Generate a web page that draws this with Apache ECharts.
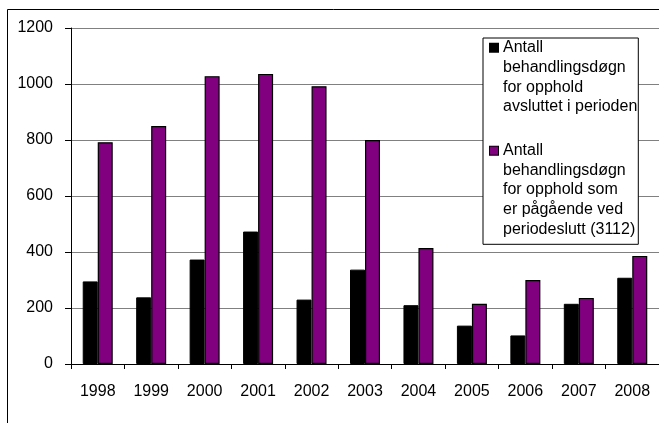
<!DOCTYPE html>
<html>
<head>
<meta charset="utf-8">
<script src="https://cdn.jsdelivr.net/npm/echarts@6/dist/echarts.min.js"></script>
<style>
  html, body { margin: 0; padding: 0; background: #fff; }
  #chart { width: 659px; height: 423px; }
</style>
</head>
<body>
<div id="chart"></div>
<script>
// Years on the category axis
const years = ['1998', '1999', '2000', '2001', '2002', '2003', '2004', '2005', '2006', '2007', '2008'];

// Treatment days for stays closed within the period (black)
const closedStays = [295, 238, 373, 473, 230, 337, 210, 137, 102, 215, 308];

// Treatment days for stays still ongoing at period end (purple)
const ongoingStays = [792, 850, 1028, 1036, 992, 800, 414, 215, 300, 236, 386];

// Value axis ticks
const yTicks = [0, 200, 400, 600, 800, 1000, 1200];

// Series names and how they wrap in the legend
const nameClosed = 'Antall behandlingsdøgn for opphold avsluttet i perioden';
const nameOngoing = 'Antall behandlingsdøgn for opphold som er pågående ved periodeslutt (3112)';
const legendLines = {};
legendLines[nameClosed] = ['Antall', 'behandlingsdøgn', 'for opphold', 'avsluttet i perioden'];
legendLines[nameOngoing] = ['Antall', 'behandlingsdøgn', 'for opphold som', 'er pågående ved', 'periodeslutt (3112)'];

const FONT = '"Liberation Sans", Arial, sans-serif';
const PURPLE = '#800080';

const chart = echarts.init(document.getElementById('chart'), null, { renderer: 'canvas' });

chart.setOption({
  animation: false,
  backgroundColor: '#fff',
  textStyle: { fontFamily: FONT },
  graphic: [{
    type: 'rect',
    shape: { x: 7.5, y: 9.5, width: 800, height: 600 },
    style: { fill: 'transparent', stroke: '#000', lineWidth: 1 },
    silent: true,
    z: -10
  }],
  grid: { left: 71, top: 28, right: -6, bottom: 59 },
  xAxis: {
    type: 'category',
    data: years,
    boundaryGap: true,
    axisLine: { lineStyle: { color: '#000', width: 1 } },
    axisTick: { show: true, length: 5, lineStyle: { color: '#000' } },
    axisLabel: { color: '#000', fontSize: 16, fontFamily: FONT, margin: 20 }
  },
  yAxis: {
    type: 'value',
    min: yTicks[0],
    max: yTicks[yTicks.length - 1],
    interval: yTicks[1] - yTicks[0],
    axisLine: { show: true, lineStyle: { color: '#000', width: 1 } },
    axisTick: { show: true, length: 6, lineStyle: { color: '#000' } },
    axisLabel: {
      color: '#000', fontSize: 16, fontFamily: FONT, margin: 18,
      formatter: function (v) { return String(v); }
    },
    splitLine: { show: true, lineStyle: { color: '#808080', width: 1 } }
  },
  legend: {
    orient: 'vertical',
    left: 483,
    top: 38,
    padding: [0, 1, 5, 2],
    itemGap: 24,
    itemWidth: 0,
    itemHeight: 14,
    icon: 'none',
    selectedMode: false,
    backgroundColor: '#fff',
    borderColor: '#000',
    borderWidth: 1,
    data: [nameClosed, nameOngoing],
    formatter: function (name) {
      const key = name === nameClosed ? 'k1' : 'k2';
      return legendLines[name].map(function (line, i) {
        return i === 0 ? '{' + key + '|}{gap|}' + line : '{ind|}' + line;
      }).join('\n');
    },
    textStyle: {
      color: '#000',
      fontSize: 16,
      fontFamily: FONT,
      lineHeight: 19.7,
      rich: {
        k1: { width: 8, height: 8, backgroundColor: '#000', borderColor: '#000', borderWidth: 1, verticalAlign: 'middle' },
        k2: { width: 8, height: 8, backgroundColor: PURPLE, borderColor: '#000', borderWidth: 1, verticalAlign: 'middle' },
        gap: { width: 5 },
        ind: { width: 13 }
      }
    }
  },
  series: [
    {
      name: nameClosed,
      type: 'bar',
      data: closedStays,
      barWidth: 15,
      barGap: '0%',
      itemStyle: { color: '#000', borderColor: '#000', borderWidth: 1 }
    },
    {
      name: nameOngoing,
      type: 'bar',
      data: ongoingStays,
      barWidth: 15,
      barGap: '0%',
      itemStyle: { color: PURPLE, borderColor: '#000', borderWidth: 1.2 }
    }
  ]
});
</script>
</body>
</html>
